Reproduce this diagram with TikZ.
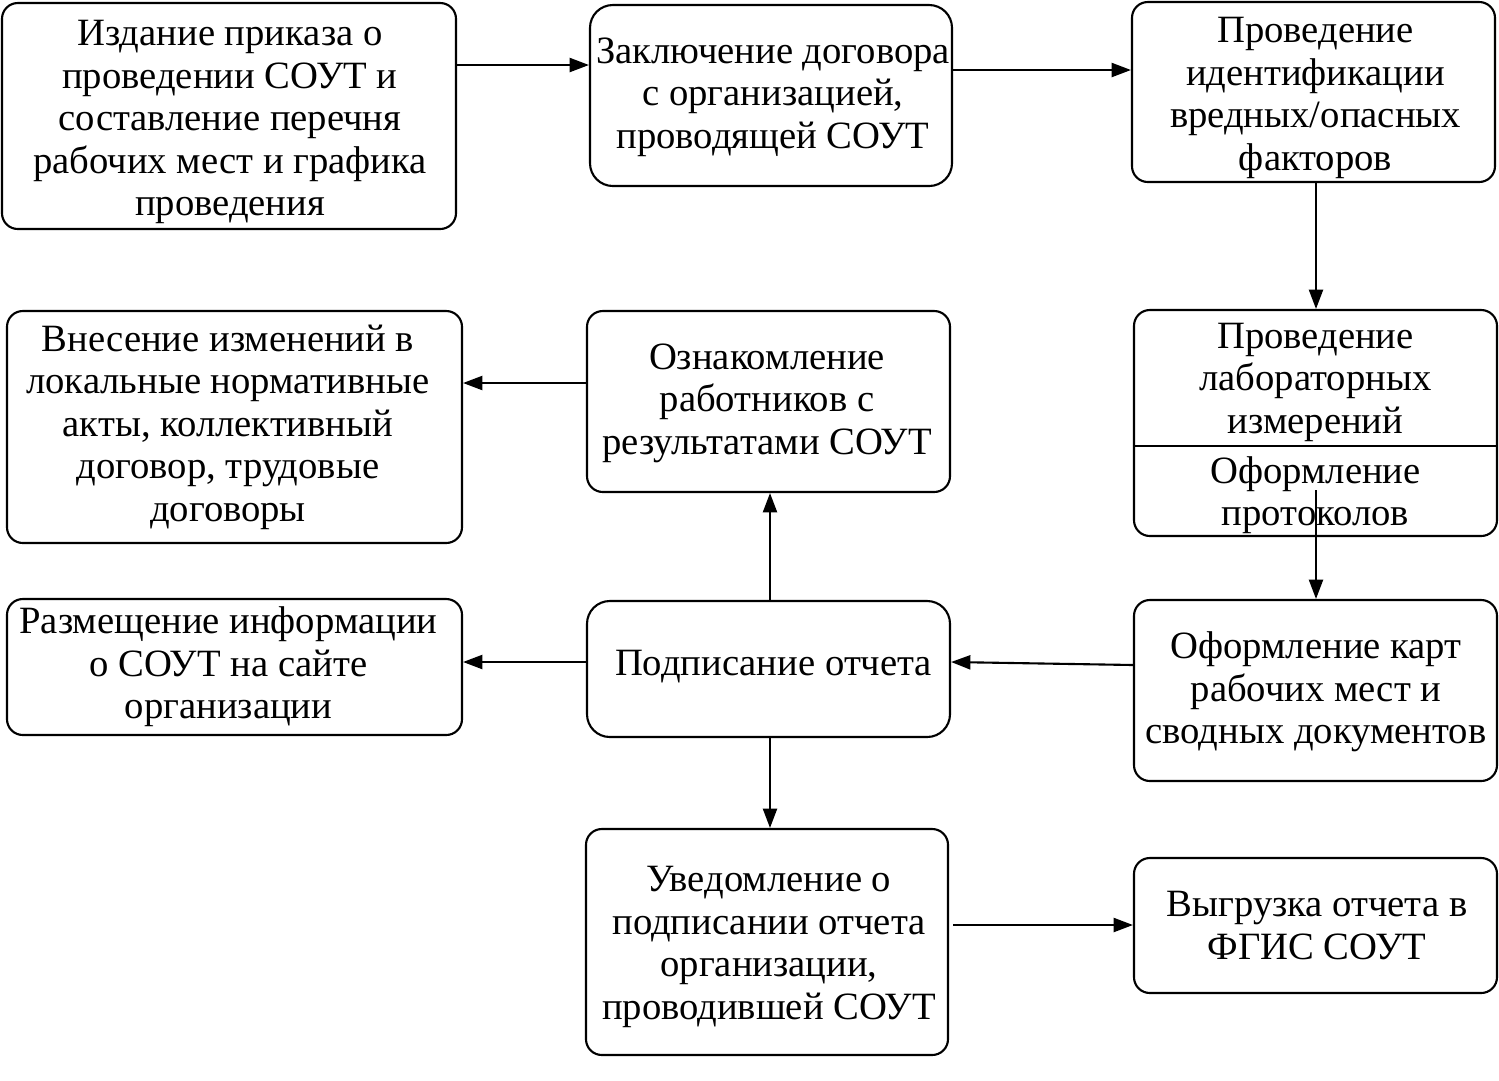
\documentclass[tikz,border=0pt]{standalone}
\usepackage{fontspec}
\setmainfont{Liberation Serif}
\usetikzlibrary{arrows.meta}
\begin{document}
\begin{tikzpicture}[x=0.02cm,y=-0.02cm,
  box/.style={draw,line width=1.2pt,rectangle,rounded corners=9pt,inner sep=0pt},
  bigr/.style={rounded corners=13pt},
  txt/.style={align=center,inner sep=0pt,font=\fontsize{22}{24.2}\selectfont},
  arr/.style={line width=1.2pt,-{Triangle[length=11pt,width=8pt]}}]
\useasboundingbox (0,0) rectangle (1499,1080);
% boxes
\node[box,minimum width=454*0.02cm,minimum height=226*0.02cm] (b1) at (229,116) {};
\node[box,bigr,minimum width=362*0.02cm,minimum height=181*0.02cm] (b2) at (771,95.5) {};
\node[box,minimum width=363*0.02cm,minimum height=180*0.02cm] (b3) at (1313.5,92) {};
\node[box,minimum width=363*0.02cm,minimum height=226*0.02cm] (b4) at (1315.5,423) {};
\node[box,minimum width=363*0.02cm,minimum height=181*0.02cm] (b5) at (1315.5,690.5) {};
\node[box,bigr,minimum width=363*0.02cm,minimum height=136*0.02cm] (b6) at (768.5,669) {};
\node[box,minimum width=363*0.02cm,minimum height=181*0.02cm] (b7) at (768.5,401.5) {};
\node[box,minimum width=455*0.02cm,minimum height=232*0.02cm] (b8) at (234.5,427) {};
\node[box,minimum width=455*0.02cm,minimum height=136*0.02cm] (b9) at (234.5,667) {};
\node[box,minimum width=362*0.02cm,minimum height=226*0.02cm] (b10) at (767,942) {};
\node[box,minimum width=363*0.02cm,minimum height=135*0.02cm] (b11) at (1315.5,925.5) {};
\draw[line width=1.2pt] (b4.west |- 0,446) -- (b4.east |- 0,446);
% texts
\node[txt] (t1) at (230,122) {Издание приказа о\\проведении СОУТ и\\составление перечня\\рабочих мест и графика\\проведения};
\node[txt] (t2) at (773,97) {Заключение договора\\с организацией,\\проводящей СОУТ};
\node[txt] (t3) at (1315.5,98) {Проведение\\идентификации\\вредных/опасных\\факторов};
\node[txt] (t4a) at (1315.5,382) {Проведение\\лабораторных\\измерений};
\node[txt] (t4b) at (1315.5,495) {Оформление\\протоколов};
\node[txt] (t5) at (1316,692) {Оформление карт\\рабочих мест и\\сводных документов};
\node[txt] (t6) at (773.5,667) {Подписание отчета};
\node[txt] (t7) at (767,403) {Ознакомление\\работников с\\результатами СОУТ};
\node[txt] (t8) at (228,427) {Внесение изменений в\\локальные нормативные\\акты, коллективный\\договор, трудовые\\договоры};
\node[txt] (t9) at (228.5,667) {Размещение информации\\о СОУТ на сайте\\организации};
\node[txt] (t10) at (769,947) {Уведомление о\\подписании отчета\\организации,\\проводившей СОУТ};
\node[txt] (t11) at (1317,925.5) {Выгрузка отчета в\\ФГИС СОУТ};
% connectors
\coordinate (p4) at (1316,490);
\draw[arr] (b1.east |- 0,65) -- (b2.west |- 0,65);
\draw[arr] (b2.east |- 0,70) -- (b3.west |- 0,70);
\draw[arr] (b3.south -| 1316,0) -- (b4.north -| 1316,0);
\draw[arr] (p4) -- (b5.north -| p4);
\draw[arr] (b5.west |- 0,665) -- (b6.east |- 0,662);
\draw[arr] (b6.north -| 770,0) -- (b7.south -| 770,0);
\draw[arr] (b7.west |- 0,383) -- (b8.east |- 0,383);
\draw[arr] (b6.west |- 0,662) -- (b9.east |- 0,662);
\draw[arr] (b6.south -| 770,0) -- (b10.north -| 770,0);
\draw[arr] ([xshift=4*0.02cm]b10.east |- 0,925) -- (b11.west |- 0,925);
\end{tikzpicture}
\end{document}
